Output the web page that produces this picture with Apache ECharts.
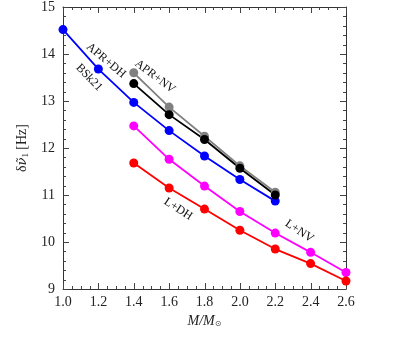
<!DOCTYPE html>
<html>
<head>
<meta charset="utf-8">
<script src="https://cdn.jsdelivr.net/npm/echarts@6/dist/echarts.min.js"></script>
<style>
  html, body { margin: 0; padding: 0; background: #fff; }
  #chart { width: 415px; height: 347px; }
</style>
</head>
<body>
<div id="chart"></div>
<script>
// masses (M/Msun)
const massFull = [1.0, 1.2, 1.4, 1.6, 1.8, 2.0, 2.2];
const massApr = [1.4, 1.6, 1.8, 2.0, 2.2];
const massL = [1.4, 1.6, 1.8, 2.0, 2.2, 2.4, 2.6];

// delta nu_1 [Hz]
const bsk21 = [14.52, 13.68, 12.97, 12.37, 11.83, 11.33, 10.87];
const aprNV = [13.60, 12.87, 12.25, 11.62, 11.06];
const aprDH = [13.37, 12.71, 12.18, 11.57, 11.00];
const lNV = [12.47, 11.76, 11.19, 10.65, 10.19, 9.78, 9.35];
const lDH = [11.68, 11.15, 10.70, 10.25, 9.85, 9.54, 9.17];

// tick values
const xTicks = [1.0, 1.2, 1.4, 1.6, 1.8, 2.0, 2.2, 2.4, 2.6];
const yTicks = [9, 10, 11, 12, 13, 14, 15];
const xMinorSplit = 4;
const yMinorSplit = 5;

// text labels: name, x, y, angle (deg)
const notes = [
  ['APR+DH', 1.243, 13.86, -40],
  ['BSk21', 1.147, 13.50, -46],
  ['APR+NV', 1.52, 13.52, -37],
  ['L+DH', 1.651, 10.70, -33],
  ['L+NV', 2.336, 10.23, -34]
];

const serif = '"Liberation Serif", "DejaVu Serif", serif';
const axisCol = '#333';
const X0 = xTicks[0], X1 = xTicks[xTicks.length - 1];
const Y0 = yTicks[0], Y1 = yTicks[yTicks.length - 1];

function pairs(xs, ys) {
  return xs.map((x, i) => [x, ys[i]]);
}

function line(name, xs, ys, color) {
  return {
    name: name,
    type: 'line',
    data: pairs(xs, ys),
    symbol: 'circle',
    symbolSize: 9,
    lineStyle: { color: color, width: 1.8 },
    itemStyle: { color: color },
    z: 3
  };
}

// tick list for the custom series: [value, side, length]
// side 0 bottom, 1 top, 2 left, 3 right
function tickRows(ticks, split, sides) {
  const rows = [];
  ticks.forEach((t, i) => {
    sides.forEach(s => rows.push([t, s, 6]));
    if (i < ticks.length - 1) {
      const step = (ticks[i + 1] - t) / split;
      for (let k = 1; k < split; k++) {
        sides.forEach(s => rows.push([t + k * step, s, 3]));
      }
    }
  });
  return rows;
}
const tickData = tickRows(xTicks, xMinorSplit, [0, 1]).concat(tickRows(yTicks, yMinorSplit, [2, 3]));

function renderTick(params, api) {
  const v = api.value(0), side = api.value(1), len = api.value(2);
  let p, dx = 0, dy = 0;
  if (side === 0) { p = api.coord([v, Y0]); dy = -len; }
  else if (side === 1) { p = api.coord([v, Y1]); dy = len; }
  else if (side === 2) { p = api.coord([X0, v]); dx = len; }
  else { p = api.coord([X1, v]); dx = -len; }
  let x = p[0], y = p[1];
  if (side < 2) x = Math.round(x) + 0.5; else y = Math.round(y) + 0.5;
  return {
    type: 'line',
    shape: { x1: x, y1: y, x2: x + dx, y2: y + dy },
    style: { stroke: '#444', lineWidth: 1 },
    silent: true
  };
}

const axisLineOn = { show: true, onZero: false, lineStyle: { color: axisCol, width: 1 } };

const chart = echarts.init(document.getElementById('chart'));

chart.setOption({
  animation: false,
  grid: { left: 63, right: 69, top: 6, bottom: 58 },
  xAxis: [
    {
      type: 'value', min: X0, max: X1, interval: 0.2, position: 'bottom',
      axisLine: axisLineOn,
      axisTick: { show: false },
      splitLine: { show: false },
      name: '{i|M/M}{s|⊙}',
      nameLocation: 'middle',
      nameGap: 25,
      nameTextStyle: {
        rich: {
          i: { fontFamily: serif, fontStyle: 'italic', fontSize: 14, color: '#222' },
          s: { fontFamily: 'DejaVu Sans', fontSize: 8, color: '#444', verticalAlign: 'bottom', padding: [6, 0, 0, 0] }
        }
      },
      axisLabel: {
        margin: 6,
        fontFamily: serif,
        fontSize: 14,
        color: '#222',
        formatter: v => v.toFixed(1)
      }
    },
    {
      type: 'value', min: X0, max: X1, interval: 0.2, position: 'top',
      axisLine: axisLineOn, axisTick: { show: false }, axisLabel: { show: false }, splitLine: { show: false }
    }
  ],
  yAxis: [
    {
      type: 'value', min: Y0, max: Y1, interval: 1, position: 'left',
      axisLine: axisLineOn,
      axisTick: { show: false },
      splitLine: { show: false },
      name: '{a|δ}{b|ν̃}{c|1} {a|[Hz]}',
      nameLocation: 'middle',
      nameGap: 31,
      nameTextStyle: {
        rich: {
          a: { fontFamily: serif, fontSize: 14, color: '#222' },
          b: { fontFamily: '"DejaVu Serif"', fontStyle: 'italic', fontSize: 13, color: '#222' },
          c: { fontFamily: serif, fontSize: 9, color: '#222', verticalAlign: 'bottom', padding: [6, 0, 0, 0] }
        }
      },
      axisLabel: { margin: 8, fontFamily: serif, fontSize: 14, color: '#222' }
    },
    {
      type: 'value', min: Y0, max: Y1, interval: 1, position: 'right',
      axisLine: axisLineOn, axisTick: { show: false }, axisLabel: { show: false }, splitLine: { show: false }
    }
  ],
  series: [
    {
      name: 'ticks',
      type: 'custom',
      data: tickData,
      renderItem: renderTick,
      clip: false,
      silent: true,
      encode: { x: 0 },
      z: 1
    },
    line('BSk21', massFull, bsk21, '#0000ff'),
    line('APR+NV', massApr, aprNV, '#808080'),
    line('APR+DH', massApr, aprDH, '#000000'),
    line('L+NV', massL, lNV, '#ff00ff'),
    line('L+DH', massL, lDH, '#ff0000')
  ]
});

// place rotated text labels through the chart's own scales
chart.setOption({
  graphic: notes.map(n => {
    const p = chart.convertToPixel({ xAxisIndex: 0, yAxisIndex: 0 }, [n[1], n[2]]);
    return {
      type: 'text',
      x: p[0],
      y: p[1],
      rotation: n[3] * Math.PI / 180,
      style: {
        text: n[0],
        fontFamily: serif,
        fontSize: 12,
        fill: '#111',
        align: 'center',
        verticalAlign: 'middle'
      },
      z: 10
    };
  })
});
</script>
</body>
</html>
